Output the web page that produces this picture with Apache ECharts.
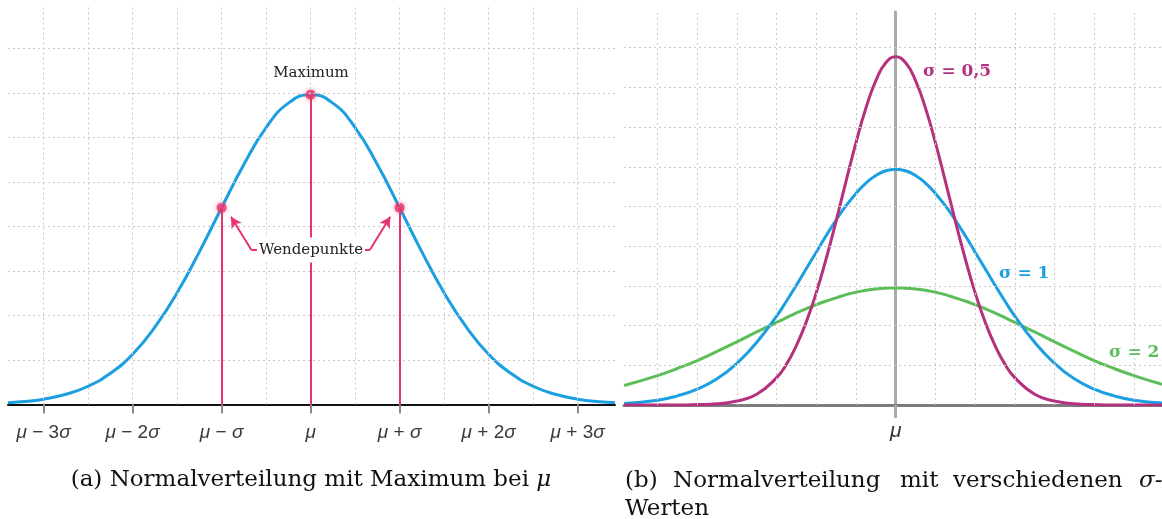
<!DOCTYPE html>
<html><head><meta charset="utf-8">
<script src="https://cdn.jsdelivr.net/npm/echarts@6/dist/echarts.min.js"></script>
<style>html,body{margin:0;padding:0;background:#fff}#c{width:1162px;height:519px}</style>
</head><body><div id="c"></div>
<script>
// ---------- Left panel (a): x in units of sigma, y in grid units ----------
const xLeft = [-3.4,-3.25,-3,-2.75,-2.5,-2.25,-2,-1.75,-1.5,-1.25,-1,-0.75,-0.5,-0.25,0,0.25,0.5,0.75,1,1.25,1.5,1.75,2,2.25,2.5,2.75,3,3.25,3.42];
const yLeft = [0.04,0.06,0.12,0.23,0.41,0.70,1.13,1.74,2.51,3.43,4.42,5.39,6.22,6.77,6.96,6.77,6.22,5.39,4.42,3.43,2.51,1.74,1.13,0.70,0.41,0.23,0.12,0.06,0.04];
const tickPosLeft = [-3,-2,-1,0,1,2,3];
const tickLabelsLeft = ['μ − 3σ','μ − 2σ','μ − σ','μ','μ + σ','μ + 2σ','μ + 3σ'];
const gridXLeft = [-3,-2.5,-2,-1.5,-1,-0.5,0,0.5,1,1.5,2,2.5,3];
const gridYLeft = [1,2,3,4,5,6,7,8];
const markerX = [-1,0,1];

// ---------- Right panel (b): x and y in grid units ----------
const xRight = [-6.84,-6,-5.5,-5,-4.5,-4,-3.5,-3,-2.75,-2.5,-2.25,-2,-1.75,-1.5,-1.25,-1,-0.75,-0.5,-0.25,0,0.25,0.5,0.75,1,1.25,1.5,1.75,2,2.25,2.5,2.75,3,3.5,4,4.5,5,5.5,6,6.71];
const ySigma05 = [0,0,0,0.01,0.03,0.10,0.27,0.69,1.03,1.50,2.10,2.83,3.69,4.64,5.64,6.61,7.48,8.17,8.62,8.77,8.62,8.17,7.48,6.61,5.64,4.64,3.69,2.83,2.10,1.50,1.03,0.69,0.27,0.10,0.03,0.01,0,0,0];
const ySigma1 = [0.04,0.12,0.23,0.40,0.66,1.05,1.58,2.24,2.62,3.02,3.44,3.85,4.27,4.66,5.02,5.33,5.59,5.78,5.90,5.94,5.90,5.78,5.59,5.33,5.02,4.66,4.27,3.85,3.44,3.02,2.62,2.24,1.58,1.05,0.66,0.40,0.23,0.12,0.05];
const ySigma2 = [0.49,0.74,0.92,1.12,1.35,1.59,1.84,2.08,2.20,2.32,2.43,2.53,2.62,2.70,2.78,2.84,2.89,2.92,2.94,2.95,2.94,2.92,2.89,2.84,2.78,2.70,2.62,2.53,2.43,2.32,2.20,2.08,1.84,1.59,1.35,1.12,0.92,0.74,0.52];
const tickPosRight = [0];
const tickLabelsRight = ['μ'];
const gridXRight = [-6,-5,-4,-3,-2,-1,1,2,3,4,5,6];
const gridYRight = [1,2,3,4,5,6,7,8,9];

const BLUE = '#1b9fe0', MAG = '#b5317e', GREEN = '#5cbe5a', PINK = '#e8336c';
const GRIDLINE = {color:'#c8c8c8', type:[2,3], width:1};
const CAP = '23px "DejaVu Serif"';

function pairs(xs, ys){ return xs.map((x,i)=>[x, ys[i]]); }
function yAt(xs, ys, x){ return ys[xs.indexOf(x)]; }
function toRich(s){
  return s.split(/([μσ])/).filter(t=>t.length).map(t => (t==='μ'||t==='σ') ? '{i|'+t+'}' : '{n|'+t+'}').join('');
}
const richTick = {
  i:{fontFamily:'Liberation Sans', fontStyle:'italic', fontSize:19, color:'#3a3a3a'},
  n:{fontFamily:'Liberation Sans', fontSize:19, color:'#3a3a3a'}
};

const chart = echarts.init(document.getElementById('c'), null, {renderer:'canvas'});
const option = {
  animation:false,
  backgroundColor:'#fff',
  grid:[
    {left:8, right:547, top:7, bottom:114.5},
    {left:624, right:0, top:12, bottom:114}
  ],
  xAxis:[
    {gridIndex:0, type:'value', min:-3.4, max:3.42,
     axisLine:{show:true, lineStyle:{color:'#111', width:2}},
     axisTick:{show:true, customValues:tickPosLeft, length:9, lineStyle:{color:'#8a8a8a', width:2}},
     axisLabel:{show:true, customValues:tickPosLeft, margin:19,
       formatter:(v)=>toRich(tickLabelsLeft[tickPosLeft.indexOf(v)]), rich:richTick},
     splitLine:{show:false}},
    {gridIndex:1, type:'value', min:-6.844, max:6.708,
     axisLine:{show:true, onZero:false, lineStyle:{color:'#7c7c7c', width:3}},
     axisTick:{show:true, customValues:tickPosRight, length:13, lineStyle:{color:'#aaa', width:3}},
     axisLabel:{show:true, customValues:tickPosRight, margin:16,
       formatter:(v)=>toRich(tickLabelsRight[tickPosRight.indexOf(v)]),
       rich:{i:{fontFamily:'Liberation Sans', fontStyle:'italic', fontSize:21, color:'#333'}}},
     splitLine:{show:false}}
  ],
  yAxis:[
    {gridIndex:0, type:'value', min:0, max:8.93, show:false, splitLine:{show:false}},
    {gridIndex:1, type:'value', min:0, max:9.9,
     axisLine:{show:true, onZero:true, lineStyle:{color:'#aaa', width:3}},
     axisTick:{show:false}, axisLabel:{show:false}, splitLine:{show:false}}
  ],
  series:[
    {type:'line', xAxisIndex:0, yAxisIndex:0, data:[], silent:true, z:1,
     markLine:{silent:true, symbol:'none', label:{show:false}, lineStyle:GRIDLINE,
       data: gridXLeft.map(v=>({xAxis:v})).concat(gridYLeft.map(v=>({yAxis:v})))}},
    {type:'line', xAxisIndex:1, yAxisIndex:1, data:[], silent:true, z:1,
     markLine:{silent:true, symbol:'none', label:{show:false}, lineStyle:GRIDLINE,
       data: gridXRight.map(v=>({xAxis:v})).concat(gridYRight.map(v=>({yAxis:v})))}},
    {type:'line', xAxisIndex:0, yAxisIndex:0, data:[], silent:true, z:2,
     markLine:{silent:true, symbol:'none', label:{show:false}, lineStyle:{color:PINK, width:2, type:'solid'},
       data: markerX.map(x=>[{coord:[x,0]},{coord:[x,yAt(xLeft,yLeft,x)]}]).concat([
         [{coord:[-0.600,3.47]},{coord:[-0.665,3.47]}],
         [{coord:[-0.665,3.47], symbol:'none'},{coord:[-0.895,4.22], symbol:'arrow', symbolSize:[9,11]}],
         [{coord:[0.600,3.47]},{coord:[0.665,3.47]}],
         [{coord:[0.665,3.47], symbol:'none'},{coord:[0.895,4.22], symbol:'arrow', symbolSize:[9,11]}]
       ])}},
    {type:'line', xAxisIndex:0, yAxisIndex:0, data:pairs(xLeft,yLeft), smooth:true,
     showSymbol:false, lineStyle:{color:BLUE, width:3}, z:3},
    {type:'scatter', xAxisIndex:0, yAxisIndex:0, data:markerX.map(x=>[x,yAt(xLeft,yLeft,x)]),
     symbolSize:10, itemStyle:{color:PINK, shadowBlur:5, shadowColor:'rgba(232,51,108,0.7)'}, z:4},
    {type:'line', xAxisIndex:1, yAxisIndex:1, data:pairs(xRight,ySigma2), smooth:true,
     showSymbol:false, lineStyle:{color:GREEN, width:3}, z:3},
    {type:'line', xAxisIndex:1, yAxisIndex:1, data:pairs(xRight,ySigma1), smooth:true,
     showSymbol:false, lineStyle:{color:BLUE, width:3}, z:3},
    {type:'line', xAxisIndex:1, yAxisIndex:1, data:pairs(xRight,ySigma05), smooth:true,
     showSymbol:false, lineStyle:{color:MAG, width:3}, z:3}
  ],
  graphic:[
    {type:'text', x:311, y:73, z:10, style:{text:'Maximum', font:'15px "DejaVu Serif"', fill:'#222', textAlign:'center', textVerticalAlign:'middle'}},
    {type:'text', x:311, y:250, z:10, style:{text:'Wendepunkte', font:'15px "DejaVu Serif"', fill:'#222', textAlign:'center', textVerticalAlign:'middle', backgroundColor:'#fff', padding:[5,2]}},
    {type:'text', x:923, y:72, z:10, style:{text:'σ = 0,5', font:'bold 17px "DejaVu Serif"', fill:MAG, textAlign:'left', textVerticalAlign:'middle'}},
    {type:'text', x:999, y:274, z:10, style:{text:'σ = 1', font:'bold 17px "DejaVu Serif"', fill:BLUE, textAlign:'left', textVerticalAlign:'middle'}},
    {type:'text', x:1109, y:353, z:10, style:{text:'σ = 2', font:'bold 17px "DejaVu Serif"', fill:GREEN, textAlign:'left', textVerticalAlign:'middle'}},
    {type:'text', x:311, y:480, z:10, style:{text:'{n|(a) Normalverteilung mit Maximum bei }{i|μ}', textAlign:'center', textVerticalAlign:'middle',
      rich:{n:{fontFamily:'DejaVu Serif', fontSize:23, fill:'#111'}, i:{fontFamily:'DejaVu Serif', fontStyle:'italic', fontSize:23, fill:'#111'}}}},
    {type:'text', x:625, y:481, z:10, style:{text:'(b)', font:CAP, fill:'#111', textVerticalAlign:'middle'}},
    {type:'text', x:673, y:481, z:10, style:{text:'Normalverteilung', font:CAP, fill:'#111', textVerticalAlign:'middle'}},
    {type:'text', x:900, y:481, z:10, style:{text:'mit', font:CAP, fill:'#111', textVerticalAlign:'middle'}},
    {type:'text', x:953, y:481, z:10, style:{text:'verschiedenen', font:CAP, fill:'#111', textVerticalAlign:'middle'}},
    {type:'text', x:1139, y:481, z:10, style:{text:'σ-', font:'italic ' + CAP, fill:'#111', textVerticalAlign:'middle'}},
    {type:'text', x:625, y:509, z:10, style:{text:'Werten', font:CAP, fill:'#111', textVerticalAlign:'middle'}}
  ]
};
chart.setOption(option);
</script></body></html>
